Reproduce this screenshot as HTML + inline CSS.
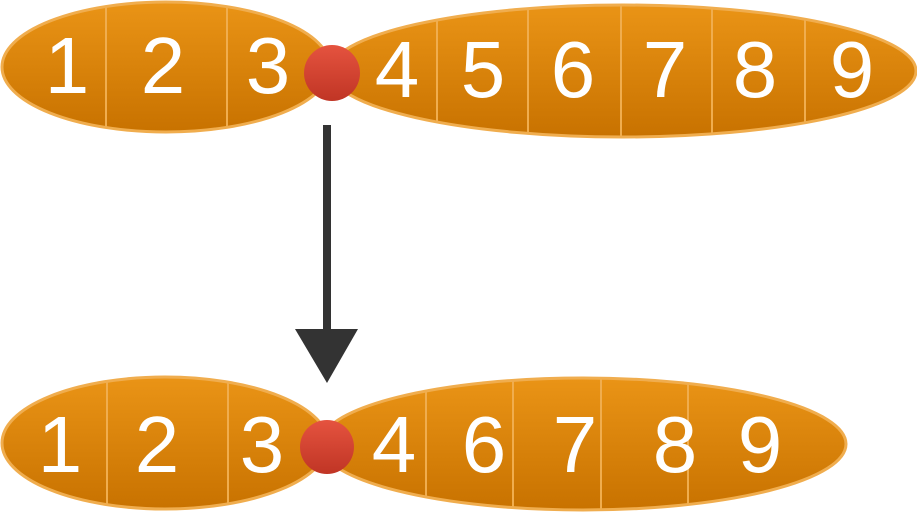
<!DOCTYPE html>
<html><head><meta charset="utf-8"><style>html,body{margin:0;padding:0;background:#fff}svg{display:block}</style></head>
<body>
<svg width="917" height="513" viewBox="0 0 917 513" xmlns="http://www.w3.org/2000/svg">
<defs>
<linearGradient id="og" x1="0" y1="0" x2="0" y2="1"><stop offset="0" stop-color="#ea9416"/><stop offset="1" stop-color="#c87200"/></linearGradient>
<linearGradient id="rg" x1="0" y1="0" x2="0" y2="1"><stop offset="0" stop-color="#e5533f"/><stop offset="1" stop-color="#c03525"/></linearGradient>
<clipPath id="c1"><ellipse cx="166" cy="67" rx="164" ry="65"/></clipPath>
<clipPath id="c2"><ellipse cx="623" cy="71" rx="293" ry="66"/></clipPath>
<clipPath id="c3"><ellipse cx="165" cy="443" rx="163" ry="66"/></clipPath>
<clipPath id="c4"><ellipse cx="583" cy="444" rx="263" ry="66"/></clipPath>
</defs>
<g stroke="#f0ad4e" stroke-width="3">
<ellipse cx="166" cy="67" rx="164" ry="65" fill="url(#og)"/>
<ellipse cx="623" cy="71" rx="293" ry="66" fill="url(#og)"/>
<ellipse cx="165" cy="443" rx="163" ry="66" fill="url(#og)"/>
<ellipse cx="583" cy="444" rx="263" ry="66" fill="url(#og)"/>
</g>
<g stroke="#f0ad4e" stroke-width="2">
<g clip-path="url(#c1)"><line x1="106" y1="0" x2="106" y2="140"/><line x1="227" y1="0" x2="227" y2="140"/></g>
<g clip-path="url(#c2)"><line x1="437" y1="0" x2="437" y2="140"/><line x1="528" y1="0" x2="528" y2="140"/><line x1="621" y1="0" x2="621" y2="140"/><line x1="712" y1="0" x2="712" y2="140"/><line x1="805" y1="0" x2="805" y2="140"/></g>
<g clip-path="url(#c3)"><line x1="107" y1="370" x2="107" y2="513"/><line x1="228" y1="370" x2="228" y2="513"/></g>
<g clip-path="url(#c4)"><line x1="426" y1="370" x2="426" y2="513"/><line x1="513" y1="370" x2="513" y2="513"/><line x1="601" y1="370" x2="601" y2="513"/><line x1="688" y1="370" x2="688" y2="513"/></g>
</g>
<circle cx="332" cy="73" r="28" fill="url(#rg)"/>
<circle cx="327" cy="447" r="27" fill="url(#rg)"/>
<rect x="323" y="125" width="8" height="206" fill="#333"/>
<polygon points="295,329 358,329 327,383" fill="#333"/>
<g fill="#fff" font-family="Liberation Sans, sans-serif" font-size="80" text-anchor="middle">
<text x="67" y="93">1</text><text x="163" y="93">2</text><text x="268" y="93">3</text>
<text x="397" y="97">4</text><text x="483" y="97">5</text><text x="573" y="97">6</text><text x="665" y="97">7</text><text x="755" y="97">8</text><text x="852" y="97">9</text>
<text x="60" y="472">1</text><text x="157" y="472">2</text><text x="262" y="472">3</text>
<text x="394" y="472">4</text><text x="484" y="472">6</text><text x="575" y="472">7</text><text x="675" y="472">8</text><text x="760" y="472">9</text>
</g>
</svg>
</body></html>
